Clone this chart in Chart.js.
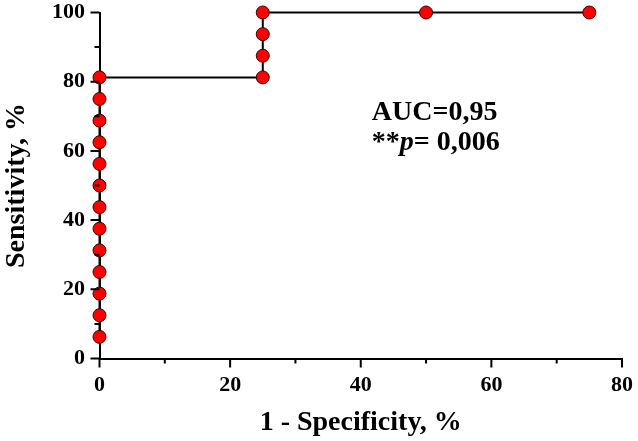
<!DOCTYPE html>
<html>
<head>
<meta charset="utf-8">
<script src="https://cdn.jsdelivr.net/npm/chart.js@4/dist/chart.umd.min.js"></script>
<style>
  html, body { margin: 0; padding: 0; background: #fff; }
  #wrap { width: 638px; height: 441px; position: relative; }
</style>
</head>
<body>
<div id="wrap"><canvas id="rocChart"></canvas></div>
<script>
// ROC curve points (1 - specificity, sensitivity), both in %
const fpr = [0, 0, 0, 0, 0, 0, 0, 0, 0, 0, 0, 0, 0, 25, 25, 25, 25, 50, 75];
const sensitivity = [6.25, 12.5, 18.75, 25, 31.25, 37.5, 43.75, 50, 56.25, 62.5, 68.75, 75, 81.25, 81.25, 87.5, 93.75, 100, 100, 100];
const xTicks = [0, 20, 40, 60, 80];
const yTicks = [0, 20, 40, 60, 80, 100];
const annotationLines = ['AUC=0,95', '0,006'];

const SERIF = "'Liberation Serif', 'Times New Roman', serif";
const MAJOR = 9, MINOR = 5;

// tick marks drawn by hand so the minor ones can be shorter
const tickMarks = {
  id: 'tickMarks',
  afterDraw(chart) {
    const ctx = chart.ctx;
    const xs = chart.scales.x, ys = chart.scales.y;
    ctx.save();
    ctx.strokeStyle = '#000';
    ctx.lineWidth = 2;
    ctx.lineCap = 'butt';
    ctx.beginPath();
    for (let i = 0; i < xTicks.length; i++) {
      const px = xs.getPixelForValue(xTicks[i]);
      ctx.moveTo(px, xs.top);
      ctx.lineTo(px, xs.top + MAJOR);
      if (i < xTicks.length - 1) {
        const mx = xs.getPixelForValue((xTicks[i] + xTicks[i + 1]) / 2);
        ctx.moveTo(mx, xs.top);
        ctx.lineTo(mx, xs.top + MINOR);
      }
    }
    for (let i = 0; i < yTicks.length; i++) {
      const py = ys.getPixelForValue(yTicks[i]);
      ctx.moveTo(ys.right, py);
      ctx.lineTo(ys.right - MAJOR, py);
      if (i < yTicks.length - 1) {
        const my = ys.getPixelForValue((yTicks[i] + yTicks[i + 1]) / 2);
        ctx.moveTo(ys.right, my);
        ctx.lineTo(ys.right - MINOR, my);
      }
    }
    ctx.stroke();
    ctx.restore();
  }
};

const aucLabel = {
  id: 'aucLabel',
  afterDraw(chart) {
    const ctx = chart.ctx;
    const xs = chart.scales.x, ys = chart.scales.y;
    const left = xs.getPixelForValue(41.7);
    const base1 = ys.getPixelForValue(69.0);
    const base2 = ys.getPixelForValue(60.2);
    ctx.save();
    ctx.fillStyle = '#000';
    ctx.textBaseline = 'alphabetic';
    ctx.textAlign = 'left';
    ctx.font = 'bold 28px ' + SERIF;
    ctx.fillText(annotationLines[0], left, base1);
    // second line: **p= 0,006 with italic p
    let cx = left;
    ctx.fillText('**', cx, base2);
    cx += ctx.measureText('**').width;
    ctx.font = 'italic bold 28px ' + SERIF;
    ctx.fillText('p', cx, base2);
    cx += ctx.measureText('p').width;
    ctx.font = 'bold 28px ' + SERIF;
    ctx.fillText('= ' + annotationLines[1], cx, base2);
    ctx.restore();
  }
};

new Chart(document.getElementById('rocChart').getContext('2d'), {
  type: 'scatter',
  data: {
    datasets: [{
      data: fpr.map((v, i) => ({ x: v, y: sensitivity[i] })),
      showLine: true,
      borderColor: '#000',
      borderWidth: 2,
      pointRadius: 6.5,
      pointHoverRadius: 6.5,
      pointBackgroundColor: '#ff0000',
      pointBorderColor: '#3a0000',
      pointBorderWidth: 1,
      clip: false
    }]
  },
  options: {
    responsive: true,
    maintainAspectRatio: false,
    animation: false,
    layout: { padding: { top: 12.5, right: 16, left: 0, bottom: 0 } },
    plugins: {
      legend: { display: false },
      tooltip: { enabled: false }
    },
    scales: {
      x: {
        type: 'linear',
        min: 0,
        max: 80,
        afterFit(scale) {
          scale.height = 82.5;
          scale.paddingLeft = 0;
          scale.paddingRight = 0;
        },
        afterBuildTicks(scale) { scale.ticks = xTicks.map(v => ({ value: v })); },
        border: { display: true, color: '#000', width: 2 },
        grid: { display: false, drawTicks: false },
        ticks: { color: '#000', padding: 13.3, font: { family: SERIF, size: 22, weight: 'bold' } },
        title: {
          display: true,
          text: '1 - Specificity, %',
          color: '#000',
          padding: { top: 0, bottom: 1 },
          font: { family: SERIF, size: 28, weight: 'bold' }
        }
      },
      y: {
        type: 'linear',
        min: 0,
        max: 100,
        afterFit(scale) {
          scale.width = 99.5;
          scale.paddingTop = 0;
          scale.paddingBottom = 0;
        },
        afterBuildTicks(scale) { scale.ticks = yTicks.map(v => ({ value: v })); },
        border: { display: true, color: '#000', width: 2 },
        grid: { display: false, drawTicks: false },
        ticks: { color: '#000', padding: 14.5, font: { family: SERIF, size: 22, weight: 'bold' } },
        title: {
          display: true,
          text: 'Sensitivity, %',
          color: '#000',
          padding: { top: 0, bottom: 0 },
          font: { family: SERIF, size: 28, weight: 'bold' }
        }
      }
    }
  },
  plugins: [tickMarks, aucLabel]
});
</script>
</body>
</html>
